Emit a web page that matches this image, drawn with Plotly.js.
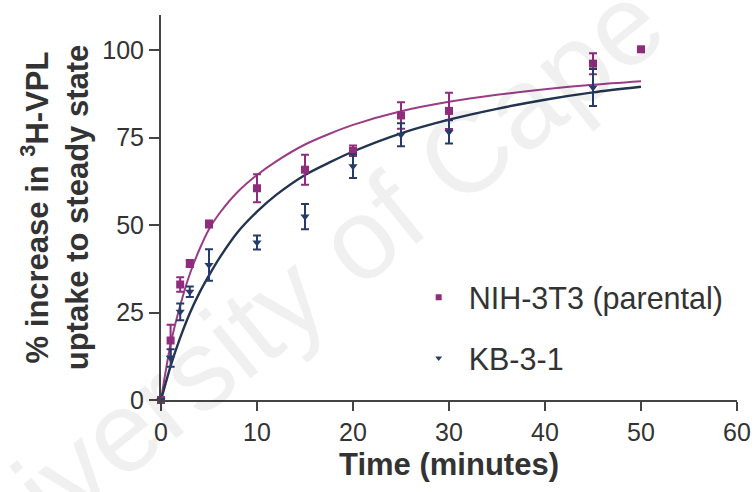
<!DOCTYPE html>
<html>
<head>
<meta charset="utf-8">
<script src="https://cdn.plot.ly/plotly-3.0.1.min.js"></script>
<style>
  html, body { margin: 0; padding: 0; background: #ffffff; }
  #chart { width: 755px; height: 492px; }
</style>
</head>
<body>
<div id="chart"></div>
<script>
const nihTime  = [0, 1, 2, 3, 5, 10, 15, 20, 25, 30, 45, 50];
const nihValue = [0, 17, 33, 39, 50.3, 60.5, 65.8, 71.2, 81.3, 82.6, 96.1, 100.2];
const nihError = [0, 4.5, 2.1, 1.0, 1.0, 4.0, 4.3, 1.5, 3.8, 5.2, 3.0, 0];

const kbTime  = [0, 1, 2, 3, 5, 10, 15, 20, 25, 30, 45];
const kbValue = [0, 12, 25.2, 30.9, 38.6, 45.0, 52.4, 66.8, 75.8, 76.6, 89.3];
const kbError = [0, 2.5, 2.4, 1.5, 4.5, 2.0, 3.6, 3.4, 3.3, 3.3, 5.3];

// Fitted curves
const fitTime     = [0, 1, 2, 3, 4, 5, 6, 8, 10, 12, 15, 17.5, 20, 25, 30, 35, 40, 45, 50];
const nihFitValue = [0, 16, 27, 36, 43, 48.8, 53, 59.5, 64.3, 68.2, 73, 76, 78.6, 82.5, 85.2, 87.2, 88.8, 90.1, 91.1];
const kbFitValue  = [0, 9.7, 17.8, 24.8, 30.6, 35.6, 40.2, 48, 53.8, 58.6, 64.3, 67.8, 71, 76.2, 80.1, 83.2, 85.8, 87.9, 89.5];

const legendNames = ['NIH-3T3 (parental)', 'KB-3-1'];
const xTicks = [0, 10, 20, 30, 40, 50, 60];
const yTicks = [0, 25, 50, 75, 100];

const purple = '#8f2c7c';
const purpleLine = '#9b3d86';
const navy = '#273b6a';
const navyLine = '#22344f';

const traces = [
  { x: fitTime, y: nihFitValue, mode: 'lines', type: 'scatter', showlegend: false,
    line: { color: purpleLine, width: 2, shape: 'spline', smoothing: 0.8 }, hoverinfo: 'skip' },
  { x: fitTime, y: kbFitValue, mode: 'lines', type: 'scatter', showlegend: false,
    line: { color: navyLine, width: 2.4, shape: 'spline', smoothing: 0.8 }, hoverinfo: 'skip' },
  { x: nihTime, y: nihValue, mode: 'markers', type: 'scatter', showlegend: false, cliponaxis: false,
    error_y: { type: 'data', array: nihError, visible: true, color: purple, thickness: 2, width: 4 },
    marker: { symbol: 'square', size: 8, color: purple } },
  { x: kbTime, y: kbValue, mode: 'markers', type: 'scatter', showlegend: false, cliponaxis: false,
    error_y: { type: 'data', array: kbError, visible: true, color: navy, thickness: 2, width: 4 },
    marker: { symbol: 'triangle-down', size: 8, color: navy } },
  // legend entries
  { x: [null], y: [null], mode: 'markers', type: 'scatter', name: legendNames[0], legendgroup: 'a',
    marker: { symbol: 'square', size: 6, color: purple } },
  { x: [null], y: [null], mode: 'markers', type: 'scatter', name: legendNames[1], legendgroup: 'b',
    marker: { symbol: 'triangle-down', size: 6, color: navy } }
];

const fontFam = '"Liberation Sans", Arial, sans-serif';

const layout = {
  width: 755, height: 492,
  margin: { l: 161, r: 18, t: 15, b: 92 },
  paper_bgcolor: '#ffffff', plot_bgcolor: 'rgba(0,0,0,0)',
  font: { family: fontFam, color: '#333333', size: 24 },
  showlegend: true,
  legend: {
    x: 0.43, y: 0.335, xanchor: 'left', yanchor: 'top',
    bgcolor: 'rgba(0,0,0,0)', font: { size: 30.5, color: '#333333', family: fontFam },
    traceorder: 'grouped', tracegroupgap: 18, itemwidth: 50
  },
  xaxis: {
    range: [0, 60], tickvals: xTicks, ticktext: xTicks.map(String),
    showline: true, linecolor: '#444444', linewidth: 2, mirror: false,
    ticks: 'outside', ticklen: 9, tickwidth: 2, tickcolor: '#444444',
    showgrid: false, zeroline: false,
    tickfont: { size: 25, color: '#333333' },
    title: { text: '<b>Time (minutes)</b>', font: { size: 31, color: '#333333' }, standoff: 8 }
  },
  yaxis: {
    range: [0, 110], tickvals: yTicks, ticktext: yTicks.map(String),
    showline: true, linecolor: '#444444', linewidth: 2,
    ticks: 'outside', ticklen: 10, tickwidth: 2, tickcolor: '#444444',
    showgrid: false, zeroline: false,
    tickfont: { size: 25, color: '#333333' },
    title: { text: '<b>% increase in <sup>3</sup>H-VPL<br>uptake to steady state</b>',
             font: { size: 31, color: '#333333' }, standoff: 4 }
  },
  shapes: [
    { type: 'line', xref: 'x', yref: 'y', x0: -1.1, x1: 0, y0: 0, y1: 0,
      line: { color: '#444444', width: 2 } }
  ],
  annotations: [
    { text: 'University of Cape Town', xref: 'paper', yref: 'paper', x: 0.41, y: 0.5,
      showarrow: false, textangle: -39, font: { size: 115, color: 'rgba(0,0,0,0.06)', family: fontFam } }
  ]
};

Plotly.newPlot('chart', traces, layout, { displayModeBar: false, staticPlot: true });
</script>
</body>
</html>
